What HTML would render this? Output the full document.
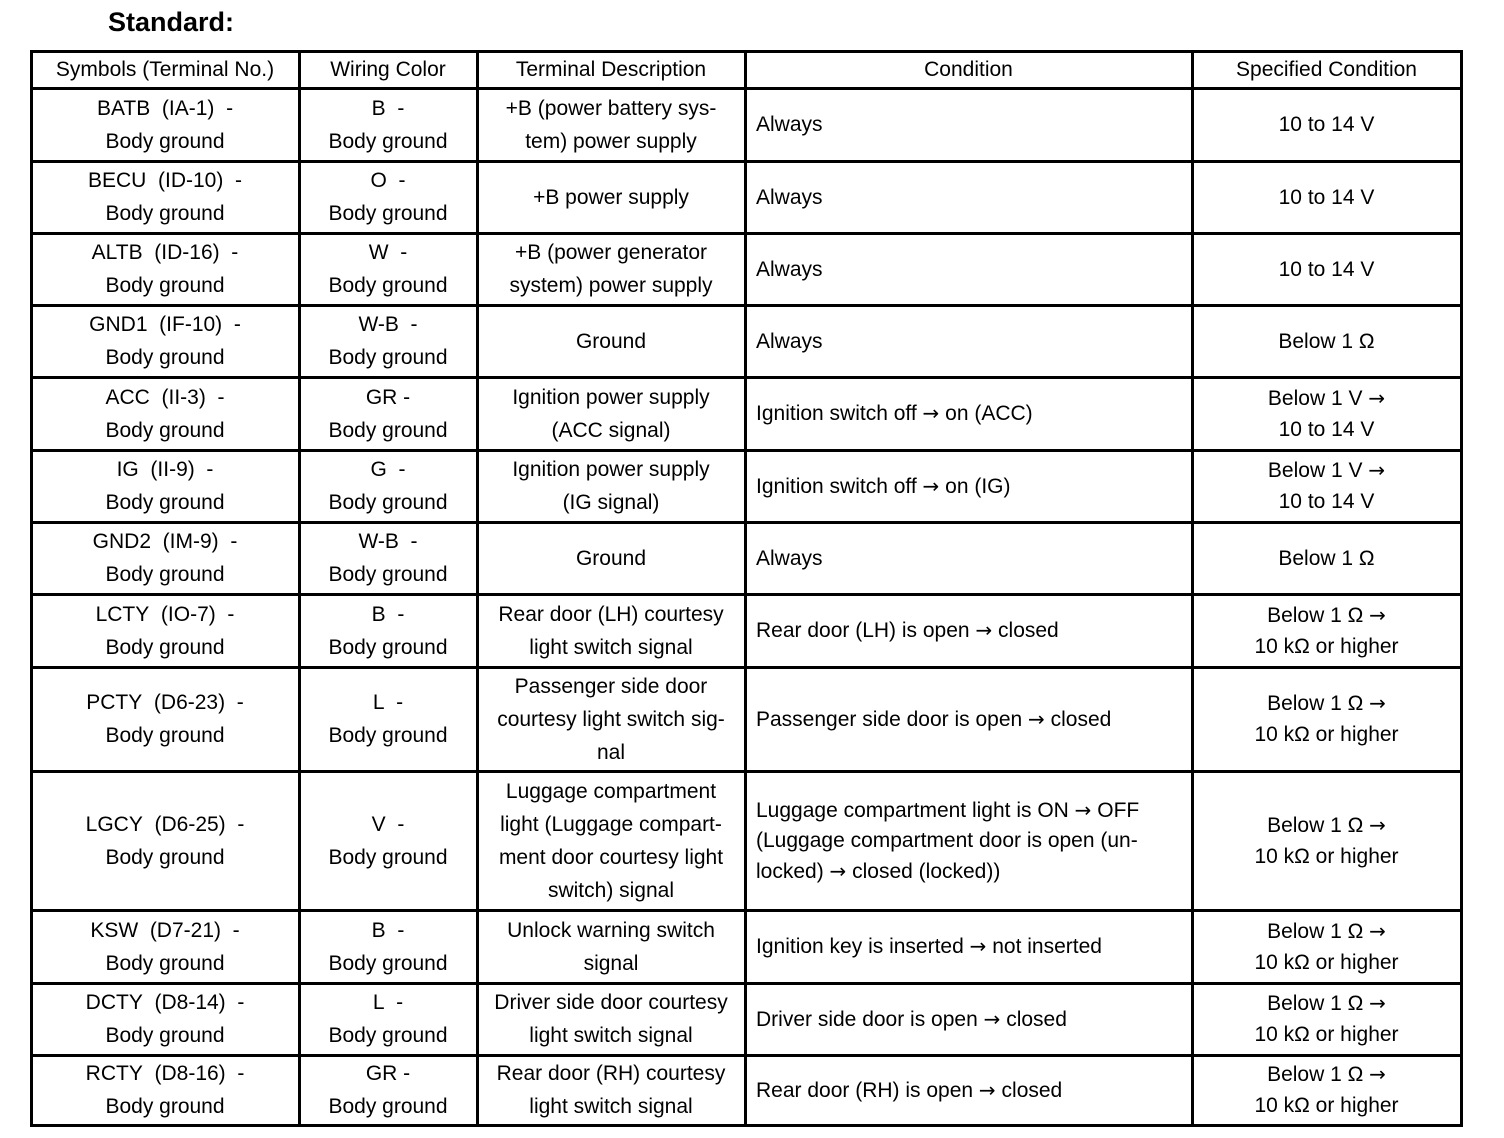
<!DOCTYPE html>
<html><head><meta charset="utf-8"><style>
body{margin:0;width:1504px;height:1138px;background:#fff;position:relative;overflow:hidden;font-family:"Liberation Sans",Arial,sans-serif;color:#000}
.c{position:absolute;display:flex;align-items:center;justify-content:center;text-align:center;font-size:21px;line-height:33px;white-space:nowrap}
.l{justify-content:flex-start;text-align:left;padding-left:11px;box-sizing:border-box}
.h{font-size:21px}
.a{font-family:"DejaVu Sans",sans-serif;font-size:20px}
.v{position:absolute;width:3px;background:#000;top:50px;height:77px}
.hl{position:absolute;height:3px;background:#000;left:30px;width:1433px}
</style></head><body>
<div style="position:absolute;left:108px;top:7px;font-size:27px;font-weight:bold">Standard:</div>
<div id="t"></div>
<script>
var X=[31,299,477,745,1192,1461];
var Y=[51,88,161,233,305,377,450,522,594,667,771,910,983,1055,1125];
var R="<span class='a'>&rarr;</span>";
var D=[
["Symbols (Terminal No.)","Wiring Color","Terminal Description","Condition","Specified Condition"],
["BATB&nbsp; (IA-1)&nbsp; -<br>Body ground","B&nbsp; -<br>Body ground","+B (power battery sys-<br>tem) power supply","Always","10 to 14 V"],
["BECU&nbsp; (ID-10)&nbsp; -<br>Body ground","O&nbsp; -<br>Body ground","+B power supply","Always","10 to 14 V"],
["ALTB&nbsp; (ID-16)&nbsp; -<br>Body ground","W&nbsp; -<br>Body ground","+B (power generator<br>system) power supply","Always","10 to 14 V"],
["GND1&nbsp; (IF-10)&nbsp; -<br>Body ground","W-B&nbsp; -<br>Body ground","Ground","Always","Below 1 &Omega;"],
["ACC&nbsp; (II-3)&nbsp; -<br>Body ground","GR&nbsp;-<br>Body ground","Ignition power supply<br>(ACC signal)","Ignition switch off "+R+" on (ACC)","Below 1 V "+R+"<br>10 to 14 V"],
["IG&nbsp; (II-9)&nbsp; -<br>Body ground","G&nbsp; -<br>Body ground","Ignition power supply<br>(IG signal)","Ignition switch off "+R+" on (IG)","Below 1 V "+R+"<br>10 to 14 V"],
["GND2&nbsp; (IM-9)&nbsp; -<br>Body ground","W-B&nbsp; -<br>Body ground","Ground","Always","Below 1 &Omega;"],
["LCTY&nbsp; (IO-7)&nbsp; -<br>Body ground","B&nbsp; -<br>Body ground","Rear door (LH) courtesy<br>light switch signal","Rear door (LH) is open "+R+" closed","Below 1 &Omega; "+R+"<br>10 k&Omega; or higher"],
["PCTY&nbsp; (D6-23)&nbsp; -<br>Body ground","L&nbsp; -<br>Body ground","Passenger side door<br>courtesy light switch sig-<br>nal","Passenger side door is open "+R+" closed","Below 1 &Omega; "+R+"<br>10 k&Omega; or higher"],
["LGCY&nbsp; (D6-25)&nbsp; -<br>Body ground","V&nbsp; -<br>Body ground","Luggage compartment<br>light (Luggage compart-<br>ment door courtesy light<br>switch) signal","<div style='line-height:30px'>Luggage compartment light is ON "+R+" OFF<br>(Luggage compartment door is open (un-<br>locked) "+R+" closed (locked))</div>","Below 1 &Omega; "+R+"<br>10 k&Omega; or higher"],
["KSW&nbsp; (D7-21)&nbsp; -<br>Body ground","B&nbsp; -<br>Body ground","Unlock warning switch<br>signal","Ignition key is inserted "+R+" not inserted","Below 1 &Omega; "+R+"<br>10 k&Omega; or higher"],
["DCTY&nbsp; (D8-14)&nbsp; -<br>Body ground","L&nbsp; -<br>Body ground","Driver side door courtesy<br>light switch signal","Driver side door is open "+R+" closed","Below 1 &Omega; "+R+"<br>10 k&Omega; or higher"],
["RCTY&nbsp; (D8-16)&nbsp; -<br>Body ground","GR&nbsp;-<br>Body ground","Rear door (RH) courtesy<br>light switch signal","Rear door (RH) is open "+R+" closed","Below 1 &Omega; "+R+"<br>10 k&Omega; or higher"]
];
var h="";
for(var j=0;j<D.length;j++)for(var i=0;i<5;i++){
 var cls="c"+(j==0?" h":"")+(j>0&&i==3?" l":"");
 var lh=(i==4&&j>0)?"line-height:31px;":"";
 h+='<div class="'+cls+'" style="'+lh+'left:'+X[i]+'px;top:'+Y[j]+'px;width:'+(X[i+1]-X[i])+'px;height:'+(Y[j+1]-Y[j])+'px"><div>'+D[j][i]+'</div></div>';
}
for(var i=0;i<X.length;i++)h+='<div class="v" style="left:'+(X[i]-1)+'px;height:'+(Y[Y.length-1]-49)+'px"></div>';
for(var j=0;j<Y.length;j++)h+='<div class="hl" style="top:'+(Y[j]-1)+'px"></div>';
document.getElementById("t").innerHTML=h;
</script>
</body></html>
